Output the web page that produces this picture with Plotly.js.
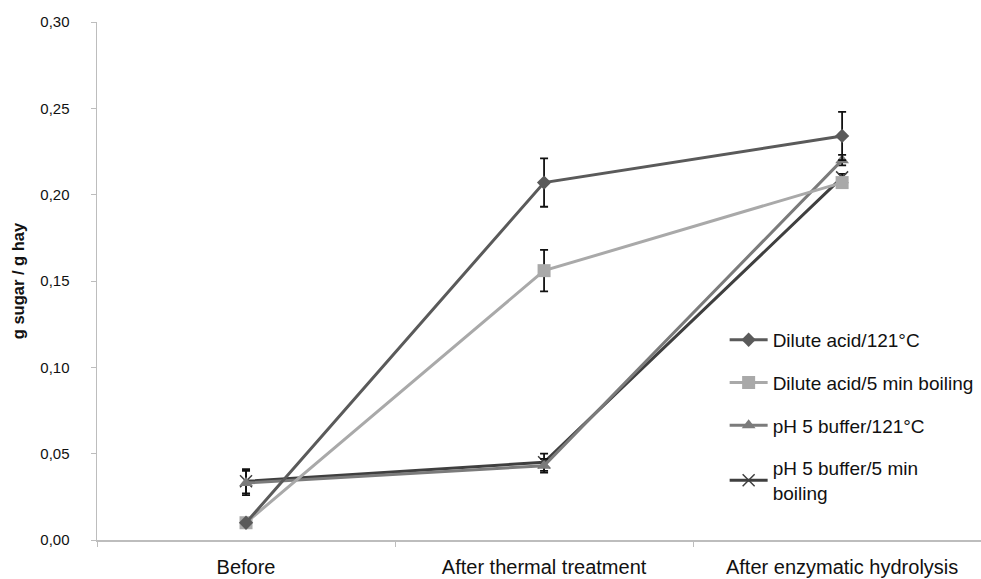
<!DOCTYPE html>
<html>
<head>
<meta charset="utf-8">
<script src="https://cdn.plot.ly/plotly-3.0.1.min.js"></script>
<style>html,body{margin:0;padding:0;background:#fff;}#chart{width:981px;height:579px;}</style>
</head>
<body>
<div id="chart"></div>
<script>
var categories = ["Before", "After thermal treatment", "After enzymatic hydrolysis"];
var seriesNames = ["Dilute acid/121°C", "Dilute acid/5 min boiling", "pH 5 buffer/121°C", "pH 5 buffer/5 min<br>boiling"];
var diluteAcid121 = [0.010, 0.207, 0.234];
var diluteAcid121Err = [0, 0.014, 0.014];
var diluteAcidBoil = [0.010, 0.156, 0.207];
var diluteAcidBoilErr = [0, 0.012, 0];
var buffer121 = [0.033, 0.043, 0.220];
var buffer121Err = [0.007, 0.004, 0.003];
var bufferBoil = [0.034, 0.045, 0.210];
var bufferBoilErr = [0.007, 0.005, 0.002];
var yTicks = [0, 0.05, 0.10, 0.15, 0.20, 0.25, 0.30];

var seriesValues = [diluteAcid121, diluteAcidBoil, buffer121, bufferBoil];
var seriesErrors = [diluteAcid121Err, diluteAcidBoilErr, buffer121Err, bufferBoilErr];
var colors = ["#5a5a5a", "#a9a9a9", "#7b7b7b", "#3f3f3f"];
var symbols = ["diamond", "square", "triangle-up", "x-thin-open"];
var sizes = [11, 13, 12, 12];

var traces = [];
[3, 2, 1, 0].forEach(function(i){
  traces.push({
    type: "scatter", mode: "lines+markers",
    x: categories, y: seriesValues[i], name: seriesNames[i],
    legendgroup: "g" + i, legendrank: i + 1,
    line: {color: colors[i], width: 3},
    marker: {symbol: symbols[i], size: sizes[i], color: colors[i], line: {color: colors[i], width: i === 3 ? 1.5 : 0}},
    error_y: {type: "data", array: seriesErrors[i], visible: true, color: "#111", thickness: 1.8, width: 4}
  });
});

var layout = {
  width: 981, height: 579,
  margin: {l: 97, r: 0, t: 22, b: 39},
  paper_bgcolor: "#fff", plot_bgcolor: "#fff",
  separators: ", ",
  font: {family: "Liberation Sans, Arial, sans-serif", color: "#111", size: 17},
  showlegend: true,
  legend: {x: 0.71, y: 0.423, xanchor: "left", yanchor: "top", tracegroupgap: 15,
           font: {size: 19, color: "#111"}, bgcolor: "rgba(0,0,0,0)", itemwidth: 38},
  xaxis: {
    type: "category", range: [-0.5, 2.466], categoryorder: "array", categoryarray: categories,
    showline: true, linecolor: "#bdbdbd", linewidth: 1.5,
    ticks: "outside", tickson: "boundaries", ticklen: 5, tickcolor: "#bdbdbd",
    showgrid: false, zeroline: false, ticklabelstandoff: 8,
    tickfont: {size: 20, color: "#111"}
  },
  yaxis: {
    range: [0, 0.30], tickvals: yTicks, tickformat: ".2f",
    showline: true, linecolor: "#bdbdbd", linewidth: 1.5,
    ticks: "outside", ticklen: 5, tickcolor: "#bdbdbd",
    showgrid: false, zeroline: false, ticklabelstandoff: 18,
    tickfont: {size: 15, color: "#111"},
    title: {text: "<b>g sugar / g hay</b>", font: {size: 16.5, color: "#111"}, standoff: 11}
  }
};

Plotly.newPlot("chart", traces, layout, {displayModeBar: false, staticPlot: true});
</script>
</body>
</html>
